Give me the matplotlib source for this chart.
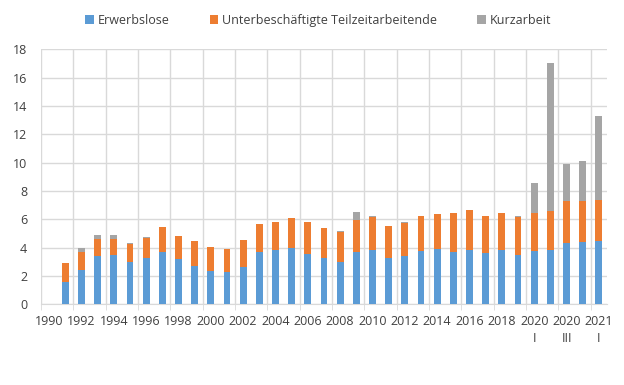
"""Erwerbslose, Teilzeit-Unterbeschäftigte und Kurzarbeit, 1990-2021 (stacked bars)."""
import numpy as np
import matplotlib
matplotlib.use('Agg')
import matplotlib.pyplot as plt

plt.rcParams.update({'font.family': ['Open Sans', 'DejaVu Sans'], 'font.size': 9})

# ---- data (Mio.), 1990 is an empty slot ----
categories = [str(y) for y in range(1990, 2020)] + \
             ['2020 I', '2020 II', '2020 III', '2020 IV', '2021 I']
tick_labels = [str(y) for y in range(1990, 2020, 2)] + ['2020\nI', '2020\nIII', '2021\nI']

erwerbslose = [np.nan, 1.60, 2.45, 3.40, 3.45, 3.00, 3.27, 3.67, 3.22, 2.70,
               2.35, 2.26, 2.65, 3.67, 3.83, 4.00, 3.55, 3.29, 3.00, 3.67,
               3.83, 3.29, 3.43, 3.76, 3.90, 3.71, 3.83, 3.64, 3.83, 3.45,
               3.76, 3.83, 4.35, 4.40, 4.49]
teilzeit = [np.nan, 1.30, 1.25, 1.19, 1.17, 1.27, 1.43, 1.76, 1.60, 1.77,
            1.67, 1.64, 1.89, 2.00, 1.98, 2.09, 2.26, 2.09, 2.13, 2.28,
            2.35, 2.24, 2.33, 2.47, 2.47, 2.75, 2.82, 2.59, 2.63, 2.73,
            2.66, 2.75, 2.96, 2.91, 2.87]
kurzarbeit = [np.nan, 0.00, 0.25, 0.30, 0.28, 0.04, 0.06, 0.02, 0.02, 0.02,
              0.01, 0.02, 0.03, 0.03, 0.02, 0.02, 0.01, 0.01, 0.01, 0.55,
              0.08, 0.02, 0.02, 0.02, 0.01, 0.01, 0.01, 0.01, 0.01, 0.02,
              2.16, 10.47, 2.59, 2.82, 5.93]

BLUE, ORANGE, GREY = '#5B9BD5', '#ED7D31', '#A5A5A5'
GRID = '#D9D9D9'
TXT = '#404040'

fig = plt.figure(figsize=(6.24, 3.85), dpi=100)
ax = fig.add_axes([0.0657, 0.2096, 0.907, 0.6624])

x = np.arange(len(categories))
e = np.array(erwerbslose); t = np.array(teilzeit); k = np.array(kurzarbeit)
w = 0.42
ax.bar(x, e, w, color=BLUE, label='Erwerbslose', zorder=3)
ax.bar(x, t, w, bottom=e, color=ORANGE, label='Unterbeschäftigte Teilzeitarbeitende', zorder=3)
ax.bar(x, k, w, bottom=e + t, color=GREY, label='Kurzarbeit', zorder=3)

ax.set_xlim(-0.5, len(categories) - 0.5)
ax.set_ylim(0, 18)
ax.set_yticks(range(0, 19, 2))
ax.yaxis.grid(True, color=GRID, lw=1, zorder=0)

# labels on every other category, gridlines at pair boundaries
ax.set_xticks(x[::2])
ax.set_xticklabels(tick_labels, linespacing=1.35, va='top')
ax.set_xticks(np.arange(-0.5, len(categories) - 1, 2), minor=True)
ax.xaxis.grid(True, which='minor', color=GRID, lw=1, zorder=0)
ax.tick_params(axis='x', which='major', length=0, pad=8, colors=TXT)
ax.tick_params(axis='x', which='minor', length=4, color=GRID)
ax.tick_params(axis='y', length=0, pad=10, colors=TXT)

for s in ['top', 'right', 'left']:
    ax.spines[s].set_visible(False)
ax.spines['bottom'].set_color(GRID)

fig.legend(loc='center', bbox_to_anchor=(0.51, 0.948), ncol=3, frameon=False,
           handlelength=0.7, handleheight=0.7, handletextpad=0.3, columnspacing=3.2,
           labelcolor=TXT, fontsize=9)

fig.savefig('out.png', dpi=100, facecolor='white')
